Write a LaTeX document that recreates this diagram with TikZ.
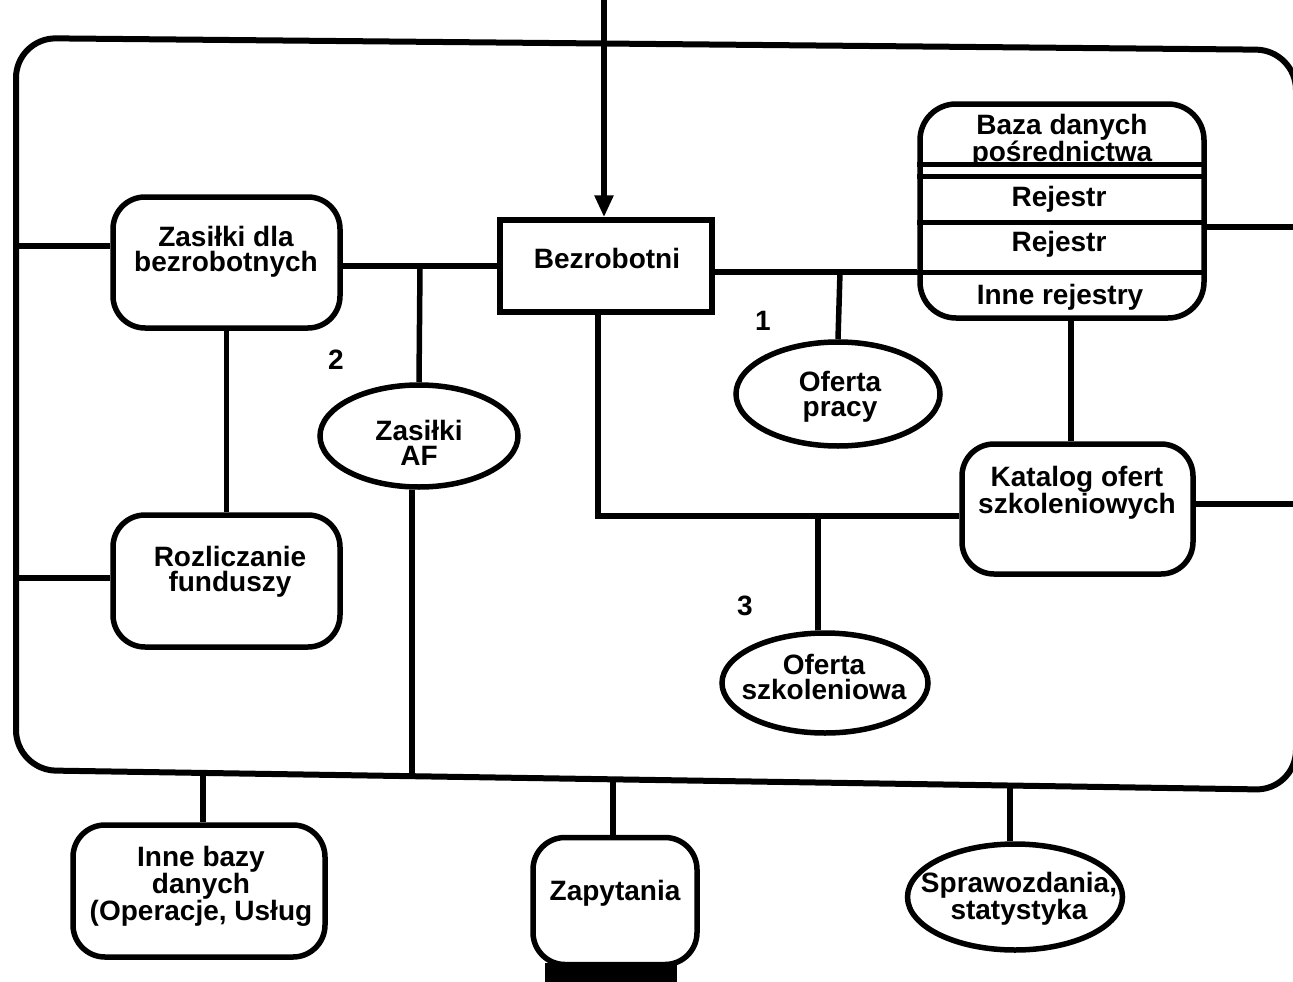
\documentclass[tikz,border=0pt]{standalone}
\usepackage{fontspec}
\setmainfont{Liberation Sans}
\usetikzlibrary{arrows.meta,shapes.geometric}
\begin{document}
\begin{tikzpicture}[x=1pt,y=-1pt,
  line width=5.5pt,
  rbox/.style={draw, rectangle, rounded corners=32pt, inner sep=0pt},
  sbox/.style={draw, rectangle, inner sep=0pt},
  oval/.style={draw, ellipse, inner sep=0pt},
  lbl/.style={font=\fontsize{28}{24.5}\selectfont\bfseries, align=center, inner sep=0pt},
  num/.style={font=\fontsize{28}{28}\selectfont\bfseries, inner sep=0pt},
]
\useasboundingbox (0,0) rectangle (1293,982);

% outer system frame
\draw[line width=6pt, rounded corners=40pt] (16,38) -- (1296,50) -- (1296,790) -- (16,770) -- cycle;

% frame attachment points
\coordinate (top) at (604,0);
\coordinate (fL1) at (16,246);
\coordinate (fL2) at (16,578);
\coordinate (fR1) at (1296,227);
\coordinate (fR2) at (1296,504);
\coordinate (fB1) at (412,774);
\coordinate (fB2) at (203,772);
\coordinate (fB3) at (613,777);
\coordinate (fB4) at (1010,784);

% boxes
\node[sbox, minimum width=212pt, minimum height=92pt] (bez) at (606,266) {};
\node[lbl] (bezt) at (607,258) {Bezrobotni};

\node[rbox, minimum width=227pt, minimum height=131pt] (zas) at (226.5,262.5) {};
\node[lbl] (zast) at (226,252) {Zasiłki dla\\bezrobotnych};

\node[rbox, minimum width=227pt, minimum height=132pt] (roz) at (226.5,581) {};
\node[lbl] (rozt) at (230,572) {Rozliczanie\\funduszy};

\node[rbox, rounded corners=36pt, minimum width=284pt, minimum height=214pt] (baza) at (1062,211) {};
\node[lbl] (bazat) at (1062,141) {Baza danych\\pośrednictwa};
\node[lbl] (rej1) at (1059,199) {Rejestr};
\node[lbl] (rej2) at (1059,244) {Rejestr};
\node[lbl] (inne) at (1060,297) {Inne rejestry};
\draw ([yshift=-63pt]baza.north west) -- ([yshift=-63pt]baza.north east);
\draw ([yshift=-75pt]baza.north west) -- ([yshift=-75pt]baza.north east);
\draw ([yshift=-121pt]baza.north west) -- ([yshift=-121pt]baza.north east);
\draw ([yshift=-171pt]baza.north west) -- ([yshift=-171pt]baza.north east);

\node[rbox, minimum width=231pt, minimum height=130pt] (kat) at (1077.5,509) {};
\node[lbl] (katt) at (1077,493) {Katalog ofert\\szkoleniowych};

\node[rbox, minimum width=252pt, minimum height=132pt] (ib) at (199,891) {};
\node[lbl] (ibt) at (201,886) {Inne bazy\\danych\\(Operacje, Usług};

\node[rbox, minimum width=164pt, minimum height=127pt] (zap) at (615,901) {};
\node[lbl] (zapt) at (615,893) {Zapytania};
\fill (545,963) rectangle (677,982);

% ellipses
\node[oval, minimum width=198pt, minimum height=102pt] (af) at (419,436) {};
\node[lbl] (aft) at (419,443) {Zasiłki\\AF};

\node[oval, minimum width=204pt, minimum height=104pt] (op) at (838,394) {};
\node[lbl] (opt) at (840,397) {Oferta\\pracy};

\node[oval, minimum width=206pt, minimum height=100pt] (osz) at (825,683) {};
\node[lbl] (oszt) at (824,677) {Oferta\\szkoleniowa};

\node[oval, minimum width=215pt, minimum height=106pt] (spr) at (1015,897) {};
\node[lbl] (sprt) at (1019,899) {Sprawozdania,\\statystyka};

% numbers
\node[num] (n1) at (763,321) {1};
\node[num] (n2) at (336,360) {2};
\node[num] (n3) at (745,606) {3};

% junctions
\coordinate (j1) at (420,266);
\coordinate (j2) at (840,272);
\coordinate (j3) at (598,516);
\coordinate (j4) at (818,516);
\coordinate (jb) at (1071,0);

% connectors
\draw[-{Triangle[length=22pt,width=18pt]}] (top) -- (bez.north -| top);
\draw (zas.east |- j1) -- (bez.west |- j1);
\draw (j1) -- (af.north);
\draw (af.south -| fB1) -- (fB1);
\draw (zas.south) -- (roz.north);
\draw (zas.west |- fL1) -- (fL1);
\draw (roz.west |- fL2) -- (fL2);
\draw (bez.east |- j2) -- (baza.west |- j2);
\draw (j2) -- (op.north);
\draw (baza.east |- fR1) -- (fR1);
\draw (baza.south -| jb) -- (kat.north -| jb);
\draw (kat.east |- fR2) -- (fR2);
\draw (bez.south -| j3) -- (j3) -- (kat.west |- j3);
\draw (j4) -- (j4 |- osz.north);
\draw (fB2) -- (ib.north -| fB2);
\draw (fB3) -- (zap.north -| fB3);
\draw (fB4) -- (spr.north -| fB4);
\end{tikzpicture}
\end{document}
